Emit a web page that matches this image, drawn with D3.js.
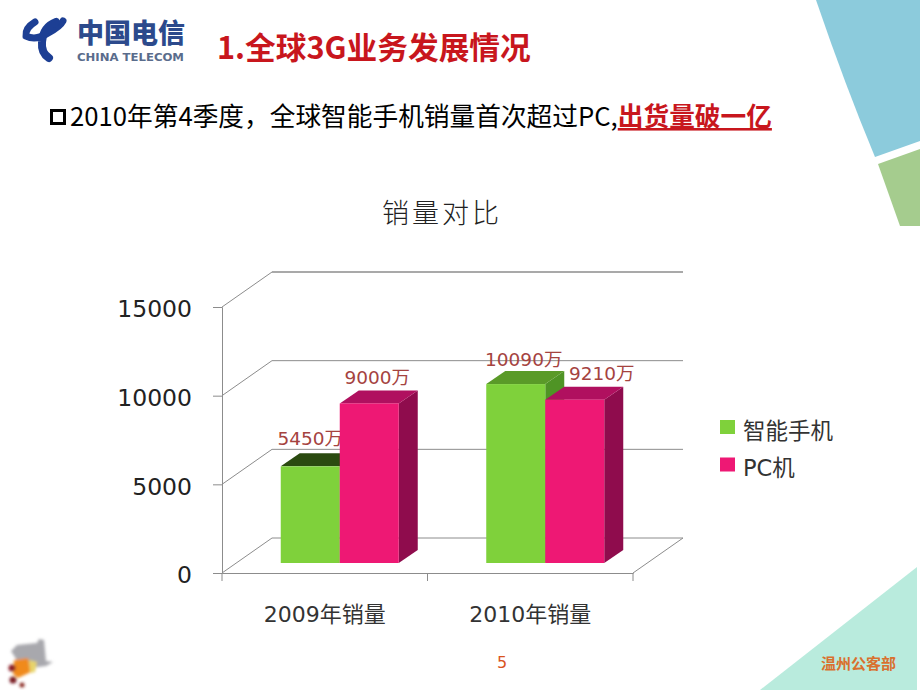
<!DOCTYPE html>
<html>
<head>
<meta charset="utf-8">
<script src="https://cdn.jsdelivr.net/npm/d3@7"></script>
<style>
  body { margin: 0; background: #fff; }
  text { font-family: "DejaVu Sans", "Noto Sans CJK SC", sans-serif; }
  .cjk { font-family: "Noto Sans CJK SC", sans-serif; }
</style>
</head>
<body>
<div id="chart"></div>
<script>
const categories = ["2009年销量", "2010年销量"];
const seriesNames = ["智能手机", "PC机"];
const phoneValues = [5450, 10090];
const pcValues = [9000, 9210];
const valueTicks = [0, 5000, 10000, 15000];
const valueLabels = [["5450万", "10090万"], ["9000万", "9210万"]];

// label nudges from the bar centre, by series then category
const labelDx = [[0, 8], [8, 27]];
const labelDy = [[-21, -18], [-19, -20]];

const frontColors = ["#7fd13b", "#ee1874"];
const sideColors = ["#4f9425", "#8f0c4d"];
const topColors = [["#2b4a10", "#5a9a28"], ["#b0105f", "#b0105f"]];

const depthX = 50, depthY = -35;   // wall offset
const barDepthX = 19, barDepthY = -13;
const barShiftX = 15, barFloorY = 10;

const svg = d3.select("#chart").append("svg")
  .attr("width", 920)
  .attr("height", 690);

// slide decoration
svg.append("path").attr("fill", "#8ccbdc")
  .attr("d", "M816,0 L920,0 L920,141 L875,157 Q845,85 816,0 Z");
svg.append("path").attr("fill", "#a5cc8e")
  .attr("d", "M878,164 L920,149 L920,226 L900,226 Z");
svg.append("path").attr("fill", "#b9ebdd")
  .attr("d", "M917,567 L917,690 L760,690 Z");

// logo
const logo = svg.append("g");
logo.append("path").attr("fill", "none").attr("stroke", "#1d3f94").attr("stroke-width", 7)
  .attr("stroke-linecap", "round")
  .attr("d", "M35,22 Q25,28 26,36 Q36,41 48,33 Q60,27 63,21");
logo.append("path").attr("fill", "none").attr("stroke", "#1d3f94").attr("stroke-width", 8)
  .attr("stroke-linecap", "round")
  .attr("d", "M56,22 Q43,27 42,42 Q41,53 49,58");
logo.append("text").attr("class", "cjk").attr("x", 77).attr("y", 43)
  .attr("font-size", 27).attr("font-weight", 900).attr("fill", "#2c4a8c")
  .text("中国电信");
logo.append("text").attr("x", 77).attr("y", 61)
  .attr("font-size", 11).attr("font-weight", 700).attr("fill", "#5a6c8c")
  .attr("textLength", 107).attr("lengthAdjust", "spacingAndGlyphs").text("CHINA TELECOM");

// headings
svg.append("text").attr("class", "cjk").attr("x", 217).attr("y", 59)
  .attr("font-size", 30.7).attr("font-weight", 700).attr("fill", "#c8161d")
  .text("1.全球3G业务发展情况");

svg.append("rect").attr("x", 51.5).attr("y", 110.5).attr("width", 13).attr("height", 13)
  .attr("fill", "none").attr("stroke", "#000").attr("stroke-width", 3);
const sub = svg.append("text").attr("class", "cjk").attr("x", 70).attr("y", 126)
  .attr("font-size", 25.7).attr("fill", "#000");
sub.append("tspan").text("2010年第4季度，全球智能手机销量首次超过PC,");
sub.append("tspan").attr("font-weight", 700).attr("fill", "#c8161d")
  .attr("text-decoration", "underline").text("出货量破一亿");

// chart
const y = d3.scaleLinear().domain([0, 15000]).range([573, 307]);
const x = d3.scaleBand().domain(categories).range([222, 633]);
const xSeries = d3.scaleBand().domain(seriesNames).range([0, 118]);

svg.append("text").attr("class", "cjk").attr("x", 442).attr("y", 223)
  .attr("text-anchor", "middle").attr("font-size", 27).attr("font-weight", 300)
  .attr("letter-spacing", 3).attr("fill", "#222").text("销量对比");

const grid = svg.append("g").attr("stroke", "#8c8c8c").attr("fill", "none");
valueTicks.forEach(v => {
  grid.append("line")
    .attr("x1", x.range()[0]).attr("y1", y(v))
    .attr("x2", x.range()[0] + depthX).attr("y2", y(v) + depthY);
  grid.append("line")
    .attr("x1", x.range()[0] + depthX).attr("y1", y(v) + depthY)
    .attr("x2", x.range()[1] + depthX).attr("y2", y(v) + depthY)
    .attr("stroke-width", v === 15000 ? 1.6 : 1);
});
grid.append("line")
  .attr("x1", x.range()[1]).attr("y1", y(0))
  .attr("x2", x.range()[1] + depthX).attr("y2", y(0) + depthY);

const yAxis = svg.append("g").attr("transform", "translate(222,0)")
  .call(d3.axisLeft(y).tickValues(valueTicks).tickFormat(d3.format("d")).tickSize(9).tickPadding(21));
const xAxis = svg.append("g").attr("transform", "translate(0,573)")
  .call(d3.axisBottom(x).tickSize(0).tickPadding(33));
[yAxis, xAxis].forEach(a => {
  a.selectAll("path.domain").attr("stroke", "#8c8c8c");
  a.selectAll(".tick line").attr("stroke", "#8c8c8c");
});
yAxis.selectAll("text").attr("font-size", 23.5).attr("fill", "#222").attr("dy", "0.42em");
xAxis.selectAll("text").attr("font-size", 22).attr("fill", "#333");

// edge ticks between the categories
[x.range()[0], x(categories[1]), x.range()[1]].forEach(tx => {
  svg.append("line").attr("x1", tx).attr("x2", tx).attr("y1", 573).attr("y2", 581)
    .attr("stroke", "#8c8c8c");
});

// 3d bars, painted left to right so that later bars cover earlier labels
const seriesValues = [phoneValues, pcValues];
const floorY = y(0) - barFloorY;
const barHeight = v => y(0) - y(v);

categories.forEach((cat, c) => {
  const bandLeft = x(cat) + (x.bandwidth() - xSeries.range()[1]) / 2 + barShiftX;
  seriesNames.forEach((name, s) => {
    const v = seriesValues[s][c];
    const x0 = bandLeft + xSeries(name);
    const x1 = x0 + xSeries.bandwidth();
    const top = floorY - barHeight(v);
    const g = svg.append("g");

    g.append("path").attr("fill", sideColors[s])
      .attr("d", d3.line()([[x1, top], [x1 + barDepthX, top + barDepthY],
        [x1 + barDepthX, floorY + barDepthY], [x1, floorY]]) + "Z");
    g.append("path").attr("fill", topColors[s][c])
      .attr("d", d3.line()([[x0, top], [x0 + barDepthX, top + barDepthY],
        [x1 + barDepthX, top + barDepthY], [x1, top]]) + "Z");
    g.append("rect").attr("x", x0).attr("y", top)
      .attr("width", x1 - x0).attr("height", floorY - top)
      .attr("fill", frontColors[s]);

    g.append("text")
      .attr("x", (x0 + x1) / 2 + labelDx[s][c])
      .attr("y", top + labelDy[s][c])
      .attr("text-anchor", "middle")
      .attr("font-size", 18.5)
      .attr("fill", "#a5433f")
      .text(valueLabels[s][c]);
  });
});

// legend
const legend = svg.append("g");
seriesNames.forEach((name, i) => {
  legend.append("rect").attr("x", 720).attr("y", 420 + i * 37.5)
    .attr("width", 15).attr("height", 14).attr("fill", frontColors[i]);
  legend.append("text").attr("x", 743).attr("y", 439 + i * 37)
    .attr("font-size", 22.5).attr("fill", "#333").text(name);
});

// footer
svg.append("text").attr("x", 502).attr("y", 668).attr("text-anchor", "middle")
  .attr("font-size", 16).attr("fill", "#d9541e").text("5");
svg.append("text").attr("class", "cjk").attr("x", 821).attr("y", 669)
  .attr("font-size", 15).attr("font-weight", 700).attr("fill", "#d9702e").text("温州公客部");

// puzzle icon
const defs = svg.append("defs");
defs.append("filter").attr("id", "soft").append("feGaussianBlur").attr("stdDeviation", 1.4);
const icon = svg.append("g").attr("filter", "url(#soft)");
icon.append("path").attr("fill", "#a8a8ad")
  .attr("d", "M11,651 L17,645 L37,643 L39,639 L44,640 L46,661 L53,662 L46,666 L30,668 L18,662 Z");
icon.append("path").attr("fill", "#f08a1e").attr("d", "M14,660 L28,658 L31,672 L18,678 L13,674 Z");
icon.append("path").attr("fill", "#e8d46a").attr("d", "M29,660 L37,662 L35,672 L30,673 Z");
icon.append("circle").attr("cx", 12).attr("cy", 668).attr("r", 3.5).attr("fill", "#8a1f25");
icon.append("circle").attr("cx", 13).attr("cy", 680).attr("r", 3.5).attr("fill", "#7a1a20");
icon.append("circle").attr("cx", 22).attr("cy", 685).attr("r", 2.5).attr("fill", "#8a2a20");
</script>
</body>
</html>
